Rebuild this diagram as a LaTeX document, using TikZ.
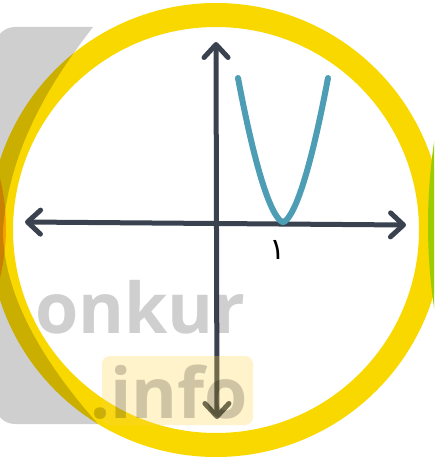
\documentclass[tikz,border=0pt]{standalone}
\usepackage{fontspec}
\usetikzlibrary{arrows.meta}
\newfontfamily\wmfont{Open Sans}
\newfontfamily\arabicfont[Script=Arabic]{DejaVu Sans}
\definecolor{ringyellow}{RGB}{249,216,0}
\definecolor{axisgray}{RGB}{58,66,80}
\definecolor{curveteal}{RGB}{77,158,181}
\definecolor{nborange}{RGB}{247,160,0}
\definecolor{nbgreen}{RGB}{156,204,0}
\definecolor{palebox}{RGB}{255,214,70}

\begin{document}
\begin{tikzpicture}[x=1pt,y=-1pt,
  axisline/.style={draw=axisgray,line width=5pt,
    {Straight Barb[length=13pt,width=24pt,round]}-{Straight Barb[length=13pt,width=24pt,round]}},
  curve/.style={draw=curveteal,line width=6pt,line cap=round},
  wmark/.style={text=black,opacity=0.19,inner sep=0pt,
    font=\wmfont\bfseries\fontsize{70}{70}\selectfont}]
\clip (0,0) rectangle (434,462);
\fill[white] (0,0) rectangle (434,462);
% ring and the neighbours
\coordinate (ctr) at (216,230);
\draw[ringyellow,line width=24pt] (ctr) circle (215);
\fill[nborange] (-200,228) circle (206);
\fill[nbgreen] (990,225) circle (562);
% grey logo part
\begin{scope}
\clip[rounded corners=20] (-5,27) rectangle (200,424);
\fill[black,opacity=0.19] (-30,27) -- (93,27)
  .. controls (60,70) and (10,140) .. (3,230)
  .. controls (3,300) and (50,370) .. (98,424) -- (-30,424) -- cycle;
\end{scope}
% axes
\coordinate (xl) at (25,222);
\coordinate (xr) at (406,225);
\coordinate (yt) at (216,42);
\coordinate (yb) at (217,419);
\draw[axisline] (xl) -- (xr);
\draw[axisline] (yb) -- (yt);
% curve
\draw[curve] plot[domain=-45:45,samples=80] ({283+\x},{222-144*pow(abs(\x)/45,1.65)});
\node[inner sep=0pt,font=\arabicfont\fontsize{30}{30}\selectfont] (lbl) at (278,250) {۱};
% watermark
\fill[palebox,opacity=0.28,rounded corners=8] (102,356) rectangle (253,425);
\node[wmark,anchor=base west] (wmtop) at (35,333) {onkur};
\node[wmark,anchor=base west] (wmbot) at (90,418) {.info};
\end{tikzpicture}
\end{document}
